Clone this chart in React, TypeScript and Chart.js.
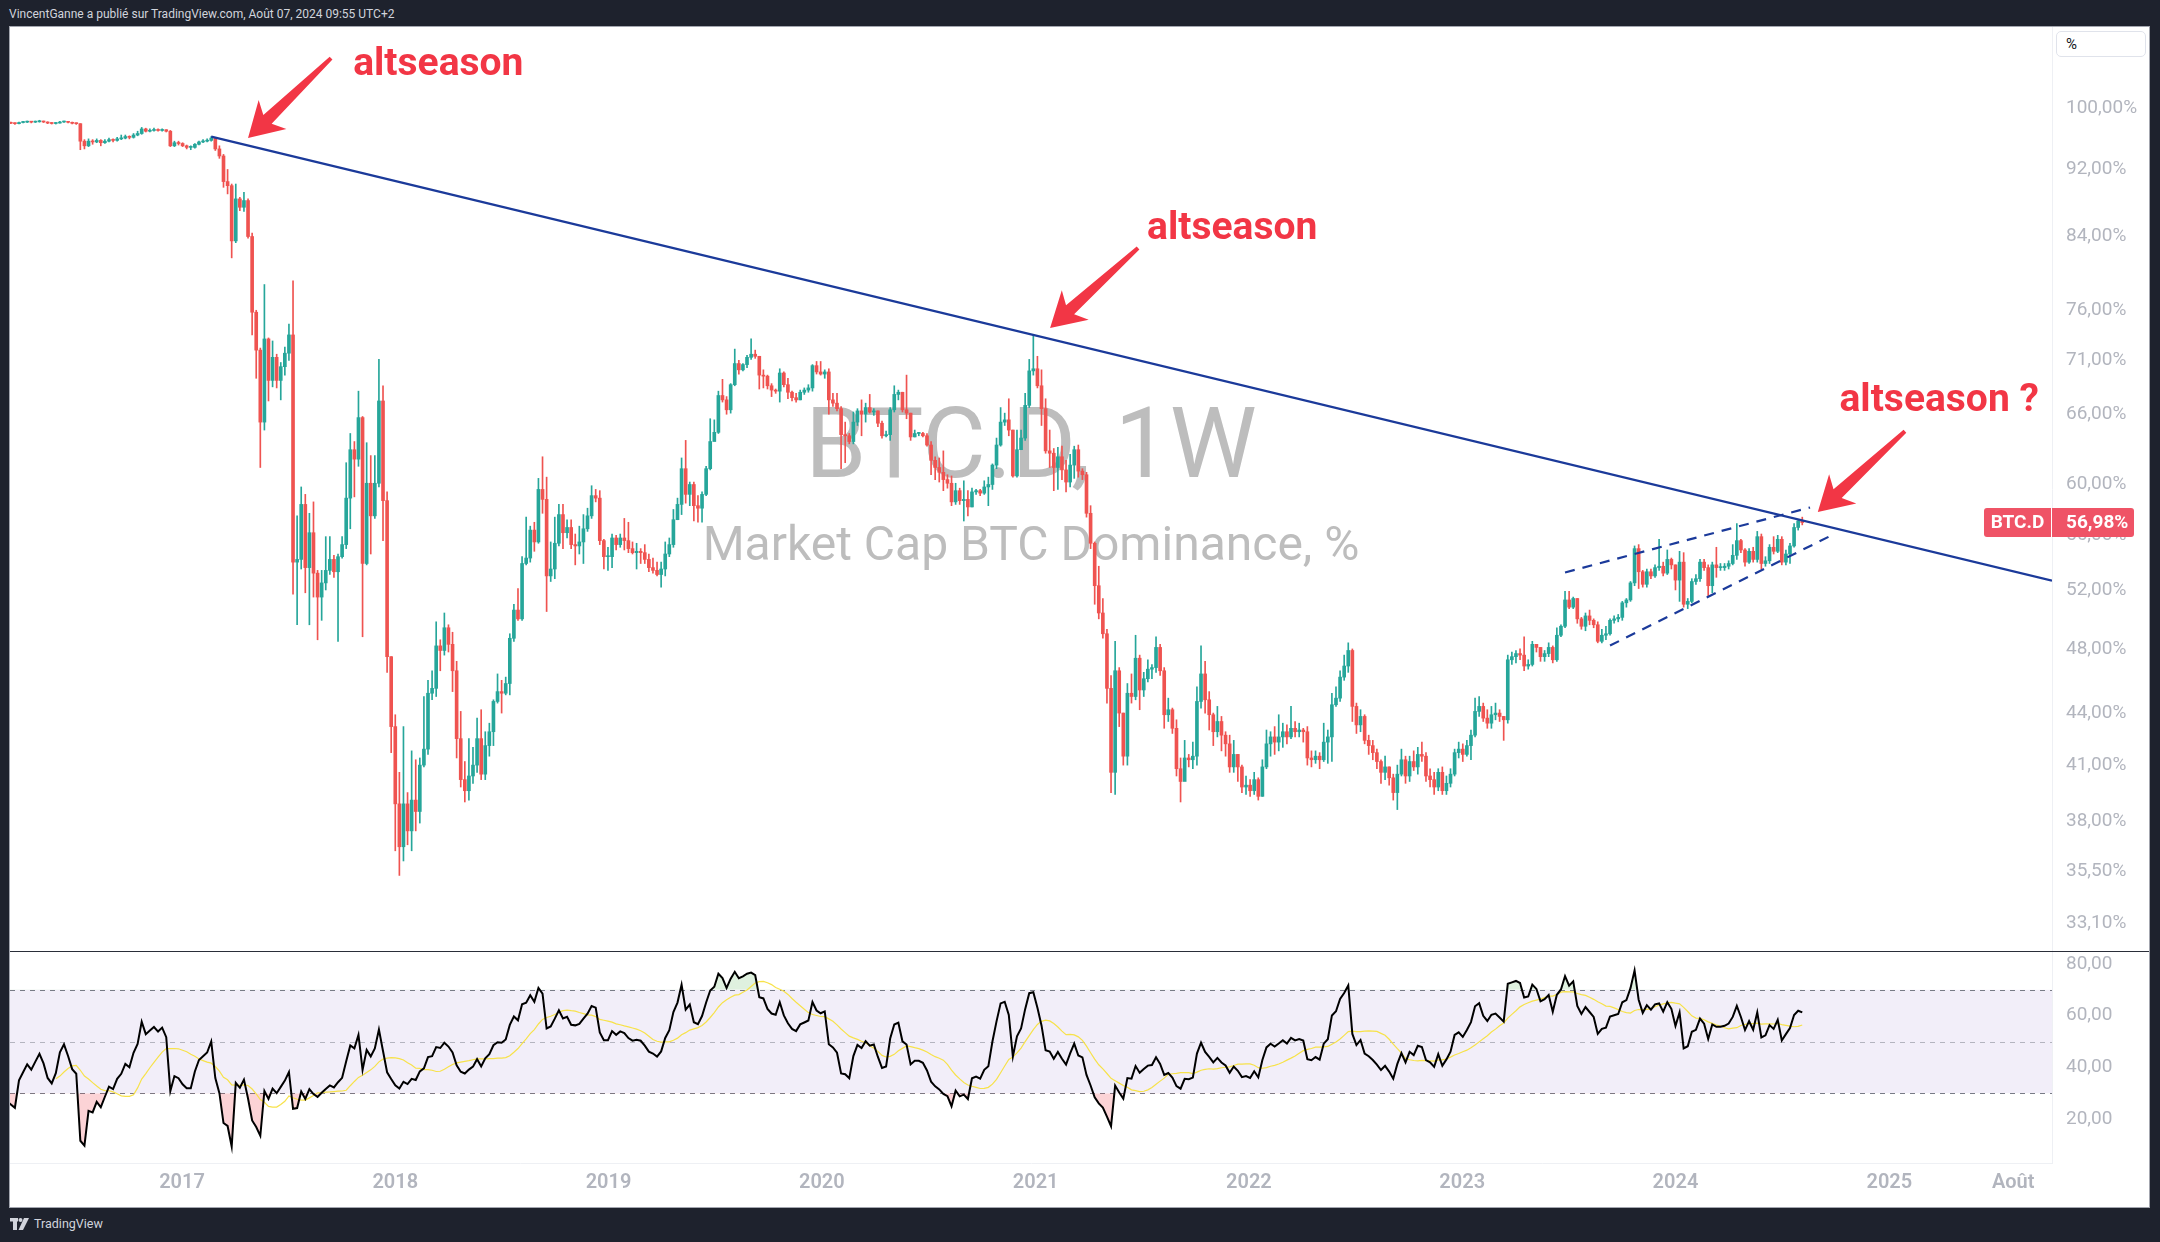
import React, { useEffect, useRef } from 'react';
import { Chart, registerables } from 'chart.js';

Chart.register(...registerables);
Chart.defaults.font.family = 'Roboto';

// ---------------- data ----------------
const SYMBOL = 'BTC.D';
const BASE_DATE = '2016-01-04'; // week index 0
const FIRST_CANDLE_DATE = '2015-11-23'; // first weekly candle (Monday)

// weekly closes (%), one per week from FIRST_CANDLE_DATE
const closes = [
  98.5, 98.6, 98.5, 98.45, 98.5, 98.4, 98.4, 98.3, 98.35, 98.25,
  98.2, 98.25, 98.15, 98.1, 98.15, 98.0, 97.95, 97.9, 98.05, 98.1,
  98.15, 98.1, 98.15, 98.2, 98.12, 97.98, 97.92, 97.98, 98.12, 98.18,
  98.08, 97.95, 97.9, 95.6, 95.0, 95.6, 95.5, 95.7, 95.4, 95.6,
  95.8, 95.7, 95.9, 96.0, 96.2, 96.1, 96.4, 96.6, 97.2, 96.9,
  97.0, 97.1, 97.0, 97.1, 96.9, 95.0, 95.4, 95.3, 95.0, 94.8,
  94.8, 95.2, 95.5, 95.6, 95.7, 96.0, 94.6, 93.7, 90.5, 90.0,
  83.5, 88.4, 87.4, 88.2, 84.0, 75.8, 72.0, 65.3, 73.1, 69.1,
  71.3, 69.1, 70.4, 71.7, 73.5, 54.0, 54.2, 58.4, 53.6, 56.2,
  53.2, 51.5, 52.5, 53.4, 54.2, 53.3, 54.4, 55.3, 58.9, 62.9,
  62.1, 65.7, 53.9, 60.1, 57.5, 60.1, 67.2, 58.7, 47.5, 43.2,
  38.9, 36.7, 38.9, 37.5, 39.1, 38.5, 41.0, 41.9, 45.2, 45.5,
  48.2, 47.9, 49.4, 48.3, 46.6, 42.5, 40.2, 39.6, 40.4, 41.0,
  42.5, 40.5, 42.1, 42.9, 44.7, 45.3, 45.2, 45.8, 48.7, 50.6,
  50.0, 53.9, 54.3, 56.4, 55.5, 59.6, 58.8, 53.0, 53.5, 55.4,
  57.6, 56.2, 56.6, 55.3, 55.2, 55.5, 56.5, 57.5, 59.1, 58.9,
  55.6, 54.4, 54.4, 55.8, 55.3, 55.8, 55.6, 55.0, 54.7, 54.8,
  54.7, 54.2, 53.6, 53.4, 53.1, 53.5, 54.6, 55.3, 57.2, 58.4,
  61.3, 59.2, 60.0, 58.3, 58.1, 59.2, 61.3, 63.6, 64.4, 67.7,
  67.3, 66.4, 68.7, 70.7, 70.1, 70.6, 71.3, 71.6, 71.4, 69.6,
  69.5, 68.6, 68.2, 68.1, 69.8, 68.7, 68.0, 67.5, 67.3, 68.0,
  68.2, 68.4, 70.5, 69.9, 69.7, 69.9, 67.3, 67.0, 66.5, 64.2,
  64.1, 63.6, 65.3, 66.3, 66.0, 66.6, 66.2, 66.3, 65.2, 64.1,
  64.2, 66.4, 67.8, 68.0, 66.4, 66.1, 64.0, 64.3, 64.3, 64.1,
  63.3, 62.0, 61.4, 61.0, 60.4, 60.1, 58.6, 59.5, 58.7, 58.8,
  58.2, 59.4, 59.5, 59.3, 59.8, 60.0, 61.6, 63.3, 65.3, 65.5,
  64.6, 60.7, 62.9, 63.9, 66.8, 70.0, 70.2, 68.6, 66.5, 62.8,
  62.6, 61.4, 62.3, 61.2, 60.2, 61.6, 62.9, 61.1, 60.8, 57.7,
  55.4, 52.3, 50.4, 49.0, 45.5, 40.6, 46.6, 44.0, 41.5, 45.2,
  45.0, 47.4, 45.4, 46.1, 46.7, 46.8, 48.1, 46.6, 43.9, 44.2,
  43.1, 40.8, 40.1, 41.4, 41.3, 41.5, 44.7, 46.4, 44.8, 43.9,
  42.9, 43.5, 42.7, 42.2, 40.9, 41.6, 40.9, 39.8, 39.9, 39.6,
  40.2, 39.3, 40.9, 42.2, 42.6, 42.3, 42.6, 42.9, 42.6, 43.1,
  42.9, 43.0, 42.9, 41.4, 41.3, 41.5, 41.3, 42.3, 42.6, 44.5,
  44.9, 46.2, 46.9, 47.9, 44.4, 43.3, 43.8, 42.4, 42.1, 41.7,
  41.2, 40.6, 40.9, 40.3, 39.5, 40.5, 41.3, 40.4, 41.2, 40.9,
  41.6, 41.5, 40.4, 40.2, 39.8, 40.6, 39.6, 40.0, 40.5, 41.7,
  41.9, 41.6, 42.1, 42.7, 44.1, 44.4, 43.7, 43.4, 43.9, 44.0,
  43.8, 43.6, 47.3, 47.5, 47.7, 47.6, 46.9, 47.0, 48.3, 48.1,
  47.5, 47.7, 48.1, 47.3, 48.9, 49.5, 51.3, 50.8, 51.4, 50.0,
  49.5, 50.2, 49.9, 49.6, 48.5, 48.9, 49.0, 49.9, 50.0, 50.1,
  51.1, 51.3, 52.5, 55.0, 53.3, 52.4, 53.3, 53.0, 53.6, 53.7,
  53.2, 54.2, 53.8, 52.7, 54.0, 51.0, 51.2, 52.6, 52.8, 54.0,
  53.6, 52.3, 53.8, 53.6, 53.6, 53.7, 53.9, 54.5, 55.6, 54.9,
  54.0, 54.8, 54.2, 55.9, 53.9, 54.1, 55.1, 54.8, 55.7, 54.0,
  54.6, 55.2, 56.6, 57.1, 56.98,
];

const highs = [
  98.7, 98.7, 98.7, 98.6, 98.6, 98.55, 98.5, 98.45, 98.45, 98.4,
  98.3, 98.35, 98.3, 98.2, 98.25, 98.2, 98.1, 98.0, 98.1, 98.2,
  98.25, 98.2, 98.25, 98.35, 98.25, 98.15, 98.05, 98.05, 98.2, 98.25,
  98.2, 98.1, 98.0, 97.9, 95.8, 95.9, 95.8, 95.9, 95.8, 95.8,
  96.0, 95.9, 96.1, 96.4, 96.4, 96.3, 96.6, 96.9, 97.4, 97.3,
  97.2, 97.3, 97.2, 97.2, 97.1, 97.0, 95.6, 95.6, 95.4, 95.1,
  95.0, 95.3, 95.6, 95.8, 95.9, 96.2, 96.1, 95.0, 93.9, 92.0,
  90.2, 90.2, 88.6, 89.2, 88.4, 84.4, 76.0, 72.2, 78.7, 73.2,
  72.9, 71.6, 70.8, 72.3, 74.6, 79.1, 57.5, 59.8, 59.2, 57.7,
  58.6, 53.4, 53.4, 55.9, 55.9, 54.5, 54.6, 55.9, 61.8, 64.3,
  63.6, 68.1, 65.8, 63.5, 62.4, 62.4, 71.1, 68.6, 59.4, 47.5,
  43.9, 40.6, 43.2, 39.5, 41.8, 41.3, 41.4, 45.0, 46.0, 46.6,
  49.8, 48.6, 50.4, 49.6, 49.1, 47.2, 44.1, 41.2, 42.5, 42.0,
  43.7, 44.2, 42.9, 43.4, 44.8, 46.4, 46.0, 46.2, 49.0, 51.0,
  52.1, 54.4, 57.4, 56.7, 57.0, 60.5, 62.3, 60.6, 55.5, 57.4,
  58.4, 58.4, 57.2, 57.2, 56.1, 56.7, 57.6, 58.1, 59.9, 59.6,
  59.5, 55.7, 55.1, 56.1, 56.0, 56.1, 57.3, 57.0, 55.5, 55.4,
  55.0, 55.3, 54.6, 54.3, 54.0, 54.0, 55.5, 55.8, 58.0, 58.9,
  62.2, 63.7, 60.2, 60.2, 59.1, 59.4, 61.5, 65.6, 65.5, 68.1,
  69.2, 67.6, 68.8, 72.1, 71.0, 70.7, 71.5, 73.1, 72.0, 71.4,
  70.1, 69.6, 68.8, 68.3, 70.2, 69.9, 69.3, 68.1, 67.9, 68.2,
  68.4, 68.7, 70.6, 70.9, 70.9, 70.1, 70.2, 67.9, 67.9, 66.7,
  65.3, 64.3, 66.2, 66.5, 67.3, 67.0, 67.8, 66.5, 66.3, 65.4,
  64.5, 66.6, 68.6, 68.2, 68.0, 69.6, 66.1, 64.6, 64.4, 64.4,
  64.3, 63.6, 62.3, 62.2, 62.8, 60.8, 60.7, 60.1, 59.7, 60.3,
  59.5, 59.7, 59.6, 59.6, 60.3, 60.6, 61.7, 63.9, 66.6, 66.1,
  67.4, 64.6, 64.6, 64.6, 67.9, 71.1, 73.5, 71.4, 70.1, 67.4,
  64.6, 63.0, 63.1, 63.2, 62.0, 62.5, 63.2, 63.3, 61.3, 61.0,
  58.3, 55.5, 53.7, 51.4, 49.3, 46.3, 48.5, 46.8, 44.0, 45.8,
  46.4, 48.9, 47.6, 46.5, 47.3, 47.0, 48.8, 48.3, 46.8, 44.9,
  44.3, 43.6, 41.4, 42.4, 41.6, 42.3, 45.6, 48.2, 47.2, 45.3,
  44.0, 44.4, 43.8, 42.9, 42.7, 42.4, 41.6, 41.0, 40.4, 40.2,
  40.6, 40.3, 41.3, 43.0, 42.9, 43.2, 43.9, 43.4, 43.3, 44.4,
  43.5, 43.4, 43.1, 43.2, 41.8, 41.8, 41.7, 43.4, 43.0, 45.2,
  45.6, 46.6, 47.6, 48.4, 48.0, 44.6, 44.2, 43.9, 42.7, 42.4,
  41.9, 41.3, 41.5, 40.9, 40.5, 41.0, 41.9, 41.5, 41.5, 41.8,
  42.0, 42.3, 41.7, 40.8, 40.6, 40.8, 40.9, 40.4, 40.8, 41.9,
  42.3, 42.2, 42.4, 43.0, 44.9, 45.0, 44.6, 44.2, 44.4, 44.6,
  44.2, 43.8, 47.6, 47.8, 47.9, 48.0, 48.8, 47.3, 48.5, 48.3,
  48.1, 47.9, 48.4, 48.2, 49.4, 49.6, 51.9, 51.9, 51.5, 51.4,
  50.1, 50.4, 50.6, 50.0, 49.8, 49.3, 49.5, 50.0, 50.2, 50.3,
  51.2, 51.4, 52.6, 55.2, 55.3, 53.4, 53.5, 53.5, 53.8, 55.7,
  54.0, 54.9, 54.3, 53.8, 54.8, 54.7, 51.4, 52.8, 53.1, 54.2,
  54.2, 53.8, 54.0, 55.1, 53.9, 53.9, 54.1, 55.3, 56.9, 55.7,
  55.0, 55.0, 55.1, 56.3, 56.1, 54.4, 55.3, 55.9, 56.0, 55.9,
  54.9, 55.4, 56.9, 57.2, 57.4,
];

const lows = [
  98.4, 98.4, 98.4, 98.3, 98.4, 98.3, 98.3, 98.2, 98.2, 98.2,
  98.1, 98.1, 98.1, 98.0, 98.0, 97.95, 97.9, 97.8, 97.85, 98.0,
  98.05, 98.0, 98.05, 98.1, 98.05, 97.9, 97.85, 97.85, 97.95, 98.05,
  98.0, 97.85, 97.8, 94.5, 94.6, 94.9, 95.2, 95.4, 95.0, 95.3,
  95.5, 95.5, 95.6, 95.8, 95.9, 95.9, 96.0, 96.3, 96.5, 96.8,
  96.8, 96.9, 96.9, 96.9, 96.8, 94.9, 94.9, 95.1, 94.9, 94.6,
  94.5, 94.7, 95.1, 95.4, 95.5, 95.6, 94.4, 93.4, 89.8, 89.0,
  81.6, 83.3, 87.0, 86.9, 83.8, 73.5, 69.3, 61.4, 64.6, 67.2,
  68.5, 68.4, 67.3, 69.6, 71.0, 51.7, 49.6, 53.5, 51.8, 49.6,
  51.5, 48.6, 49.9, 52.0, 53.1, 52.9, 48.5, 54.3, 55.0, 56.5,
  59.0, 61.5, 48.8, 53.8, 54.6, 57.3, 59.8, 55.6, 46.5, 41.7,
  36.5, 35.3, 36.0, 36.8, 36.5, 37.5, 37.9, 40.9, 41.6, 44.8,
  45.0, 46.6, 47.6, 47.8, 45.3, 41.4, 39.8, 39.0, 39.1, 40.0,
  40.6, 40.2, 40.2, 41.5, 42.1, 44.6, 44.0, 45.1, 45.1, 48.5,
  49.9, 49.9, 53.8, 54.0, 54.8, 55.4, 57.7, 50.5, 52.6, 52.8,
  55.2, 55.0, 55.8, 55.0, 53.8, 54.6, 53.9, 56.3, 57.3, 58.6,
  55.3, 53.5, 53.4, 53.6, 54.9, 55.1, 54.9, 54.7, 54.6, 53.5,
  53.9, 53.9, 53.3, 53.2, 53.0, 52.2, 53.0, 54.4, 55.1, 57.2,
  57.6, 58.5, 58.3, 57.1, 57.0, 57.0, 59.1, 61.2, 63.7, 64.3,
  67.1, 66.0, 66.1, 68.6, 69.7, 70.0, 70.3, 71.1, 71.2, 68.3,
  68.4, 68.3, 67.6, 67.9, 67.1, 68.5, 67.4, 67.2, 67.1, 67.3,
  67.8, 68.0, 68.1, 69.7, 69.6, 69.3, 66.0, 66.7, 66.3, 61.3,
  61.8, 63.4, 63.4, 65.0, 64.1, 65.3, 66.1, 65.9, 64.9, 63.9,
  64.0, 63.7, 66.2, 67.3, 66.2, 65.6, 63.7, 64.0, 64.1, 64.0,
  63.2, 60.8, 60.4, 60.2, 59.5, 59.7, 58.3, 58.4, 58.4, 57.1,
  57.5, 58.2, 59.2, 59.1, 59.2, 58.3, 59.6, 61.3, 63.2, 65.0,
  64.1, 60.6, 60.6, 63.3, 63.7, 66.6, 69.6, 68.4, 65.0, 62.6,
  61.4, 59.5, 59.6, 60.4, 59.4, 59.8, 60.5, 60.6, 60.4, 57.4,
  55.0, 51.0, 50.0, 48.7, 44.6, 39.5, 39.4, 43.2, 41.0, 41.0,
  44.6, 44.8, 44.2, 45.0, 45.9, 46.1, 46.5, 46.3, 43.1, 43.5,
  42.8, 40.4, 39.0, 40.3, 40.9, 40.8, 41.0, 44.3, 44.0, 43.0,
  42.1, 42.6, 41.8, 41.5, 40.6, 40.6, 40.1, 39.5, 39.4, 39.3,
  39.4, 39.1, 39.3, 40.8, 41.5, 41.6, 41.8, 42.0, 42.2, 42.5,
  42.6, 42.6, 42.3, 41.0, 40.9, 41.1, 40.8, 41.2, 41.1, 41.2,
  44.4, 44.7, 46.0, 46.5, 43.5, 42.8, 42.9, 42.2, 41.6, 41.3,
  40.8, 40.0, 40.2, 39.9, 39.1, 38.6, 40.4, 40.0, 40.1, 40.7,
  40.5, 41.2, 40.1, 39.8, 39.4, 39.6, 39.4, 39.4, 39.8, 40.4,
  41.4, 41.2, 41.5, 41.3, 42.6, 43.8, 43.5, 43.1, 43.1, 43.6,
  43.5, 42.4, 43.4, 47.0, 47.1, 47.3, 46.6, 46.7, 46.9, 47.8,
  47.2, 47.2, 47.5, 47.1, 47.2, 48.8, 49.4, 50.7, 50.7, 49.7,
  49.3, 49.2, 49.6, 49.4, 48.4, 48.4, 48.6, 48.9, 49.7, 49.8,
  49.9, 50.8, 51.2, 52.3, 52.1, 52.2, 52.2, 52.8, 52.9, 53.4,
  53.0, 53.1, 53.5, 52.0, 51.2, 50.8, 50.7, 51.1, 52.4, 52.6,
  53.4, 51.6, 51.8, 52.9, 53.4, 53.4, 53.5, 53.8, 54.2, 54.7,
  53.7, 53.9, 54.0, 54.0, 53.5, 53.7, 53.9, 54.6, 54.7, 53.8,
  53.8, 53.9, 55.1, 56.4, 56.8,
];

const priceTicks = [33.1, 35.5, 38, 41, 44, 48, 52, 56, 60, 66, 71, 76, 84, 92, 100];
const rsiTicks = [20, 40, 60, 80];
const timeLabels = ['2017', '2018', '2019', '2020', '2021', '2022', '2023', '2024', '2025', 'Août'];
const timeLabelDates = ['2017-01-01', '2018-01-01', '2019-01-01', '2020-01-01', '2021-01-01', '2022-01-01', '2023-01-01', '2024-01-01', '2025-01-01', '2025-08-01'];

// drawings (x = week index from BASE_DATE, y = %)
const trendLine = [{ x: 59, y: 96.2 }, { x: 509.06, y: 52.66 }];
const wedgeUpper = [{ x: 390.0, y: 53.25 }, { x: 449.9, y: 58.16 }];
const wedgeLower = [{ x: 401.0, y: 48.22 }, { x: 455.3, y: 56.02 }];
const arrows = [
  { from: { x: 88.3, y: 107.0 }, to: { x: 68.0, y: 96.0 } },
  { from: { x: 285.6, y: 82.7 }, to: { x: 264.1, y: 74.2 } },
  { from: { x: 473.1, y: 64.5 }, to: { x: 451.8, y: 57.8 } },
];
const notes = [
  { text: 'altseason', x: 93.7, y: 104.6 },
  { text: 'altseason', x: 287.8, y: 83.7 },
  { text: 'altseason ?', x: 457.1, y: 66.3 },
];

// view
const X_MIN = 9.8;
const X_MAX = 509.06;
const PRICE_MIN = 31.86;
const PRICE_MAX = 111.62;
const RSI_MIN = 2.97;
const RSI_MAX = 84.65;

// ---------------- helpers ----------------
const DAY = 86400000;
const weeksFrom = (d: string) =>
  (Date.parse(d + 'T00:00:00Z') - Date.parse(BASE_DATE + 'T00:00:00Z')) / (7 * DAY);
const fmt2 = (v: number) => v.toFixed(2).replace('.', ',');

function rsiOf(values: number[], len: number) {
  const out: (number | null)[] = values.map(() => null);
  let g = 0;
  let l = 0;
  for (let i = 1; i < values.length; i++) {
    const d = values[i] - values[i - 1];
    const up = d > 0 ? d : 0;
    const dn = d < 0 ? -d : 0;
    if (i <= len) {
      g += up;
      l += dn;
      if (i === len) {
        g /= len;
        l /= len;
        out[i] = l === 0 ? 100 : 100 - 100 / (1 + g / l);
      }
    } else {
      g = (g * (len - 1) + up) / len;
      l = (l * (len - 1) + dn) / len;
      out[i] = l === 0 ? 100 : 100 - 100 / (1 + g / l);
    }
  }
  return out;
}

function smaOf(values: (number | null)[], len: number) {
  return values.map((_, i) => {
    if (i < len - 1) return null;
    let s = 0;
    for (let j = i - len + 1; j <= i; j++) {
      const v = values[j];
      if (v === null) return null;
      s += v;
    }
    return s / len;
  });
}

const UP = '#26a69a';
const DOWN = '#ef5350';
const NAVY = '#1b3a9a';
const AXIS_TEXT = '#b2b5be';
const TAG_RED = '#ef5366';
const NOTE_RED = '#f23645';

export default function App() {
  const mainRef = useRef<HTMLCanvasElement>(null);
  const rsiRef = useRef<HTMLCanvasElement>(null);

  useEffect(() => {
    document.body.style.margin = '0';
    const firstX = weeksFrom(FIRST_CANDLE_DATE);
    const xs = closes.map((_, i) => firstX + i);
    const opens = closes.map((c, i) => (i === 0 ? c : closes[i - 1]));
    const colors = closes.map((c, i) => (c >= opens[i] ? UP : DOWN));
    const bodies = xs.map((x, i) => ({ x, y: [opens[i], closes[i]] }));
    const wicks = xs.map((x, i) => ({ x, y: [lows[i], highs[i]] }));
    const lastClose = closes[closes.length - 1];

    const watermark = {
      id: 'watermark',
      beforeDatasetsDraw(chart: any) {
        const { ctx, chartArea } = chart;
        const cx = (chartArea.left + chartArea.right) / 2;
        ctx.save();
        ctx.fillStyle = '#bdbdbd';
        ctx.textAlign = 'center';
        ctx.textBaseline = 'alphabetic';
        ctx.font = '98px Roboto';
        ctx.fillText(`${SYMBOL}, 1W`, cx, 450);
        ctx.font = '48px Roboto';
        ctx.fillText('Market Cap BTC Dominance, %', cx, 533);
        ctx.restore();
      },
    };

    const annotations = {
      id: 'annotations',
      afterDatasetsDraw(chart: any) {
        const { ctx } = chart;
        const xs_ = chart.scales.x;
        const ys_ = chart.scales.y;
        ctx.save();
        ctx.fillStyle = NOTE_RED;
        arrows.forEach((a) => {
          const tx = xs_.getPixelForValue(a.from.x);
          const ty = ys_.getPixelForValue(a.from.y);
          const px = xs_.getPixelForValue(a.to.x);
          const py = ys_.getPixelForValue(a.to.y);
          const len = Math.hypot(px - tx, py - ty);
          const ux = (px - tx) / len;
          const uy = (py - ty) / len;
          const nx = -uy;
          const ny = ux;
          const pt = (back: number, side: number) => [px - ux * back + nx * side, py - uy * back + ny * side];
          const pts = [
            [px, py],
            pt(34, 20),
            pt(27, 6),
            [tx + nx * 2, ty + ny * 2],
            [tx - nx * 2, ty - ny * 2],
            pt(27, -6),
            pt(34, -20),
          ];
          ctx.beginPath();
          ctx.moveTo(pts[0][0], pts[0][1]);
          for (let i = 1; i < pts.length; i++) ctx.lineTo(pts[i][0], pts[i][1]);
          ctx.closePath();
          ctx.fill();
        });
        ctx.font = 'bold 39px Roboto';
        ctx.textAlign = 'left';
        ctx.textBaseline = 'alphabetic';
        notes.forEach((n) => {
          ctx.fillText(n.text, xs_.getPixelForValue(n.x), ys_.getPixelForValue(n.y));
        });
        ctx.restore();
      },
    };

    const priceTag = {
      id: 'priceTag',
      afterDraw(chart: any) {
        const { ctx, chartArea } = chart;
        const y = chart.scales.y.getPixelForValue(lastClose);
        const h = 29;
        const r = chartArea.right;
        ctx.save();
        ctx.fillStyle = TAG_RED;
        ctx.beginPath();
        ctx.roundRect(r - 68, y - h / 2, 67, h, [3, 0, 0, 3]);
        ctx.fill();
        ctx.beginPath();
        ctx.roundRect(r, y - h / 2, 82, h, [0, 3, 3, 0]);
        ctx.fill();
        ctx.fillStyle = '#ffffff';
        ctx.font = 'bold 19px Roboto';
        ctx.textBaseline = 'middle';
        ctx.textAlign = 'center';
        ctx.fillText(SYMBOL, r - 34.5, y + 1);
        ctx.textAlign = 'left';
        ctx.fillText(fmt2(lastClose) + '%', r + 14, y + 1);
        ctx.restore();
      },
    };

    const main = new Chart(mainRef.current as HTMLCanvasElement, {
      type: 'bar',
      data: {
        datasets: [
          { type: 'line', data: trendLine, borderColor: NAVY, borderWidth: 2.2, pointRadius: 0, order: 0 } as any,
          { type: 'line', data: wedgeUpper, borderColor: NAVY, borderWidth: 2.2, borderDash: [10, 8], pointRadius: 0, order: 0 } as any,
          { type: 'line', data: wedgeLower, borderColor: NAVY, borderWidth: 2.2, borderDash: [10, 8], pointRadius: 0, order: 0 } as any,
          { type: 'bar', data: bodies, backgroundColor: colors, barThickness: 3, grouped: false, minBarLength: 1, order: 1 } as any,
          { type: 'bar', data: wicks, backgroundColor: colors, barThickness: 1, grouped: false, order: 2 } as any,
        ],
      },
      options: {
        responsive: false,
        animation: false,
        events: [],
        layout: { padding: 0, autoPadding: false },
        plugins: { legend: { display: false }, tooltip: { enabled: false } },
        scales: {
          x: { type: 'linear', min: X_MIN, max: X_MAX, display: false, offset: false },
          y: {
            type: 'logarithmic',
            position: 'right',
            min: PRICE_MIN,
            max: PRICE_MAX,
            grid: { display: false, drawTicks: false },
            border: { color: '#eef0f4' },
            ticks: {
              padding: 14,
              autoSkip: false,
              color: AXIS_TEXT,
              font: { size: 19 },
              callback: (v: any) => fmt2(Number(v)) + '%',
            },
            afterBuildTicks: (s: any) => {
              s.ticks = priceTicks.map((v) => ({ value: v }));
            },
            afterFit: (s: any) => {
              s.width = 97;
              s.paddingTop = 0;
              s.paddingBottom = 0;
            },
          },
        },
      } as any,
      plugins: [watermark, annotations, priceTag],
    });

    const rsi = rsiOf(closes, 14);
    const ma = smaOf(rsi, 14);
    const rsiPts = xs.map((x, i) => ({ x, y: rsi[i] }));
    const maPts = xs.map((x, i) => ({ x, y: ma[i] }));
    const timeTicks = timeLabelDates.map(weeksFrom);

    const band = {
      id: 'band',
      beforeDatasetsDraw(chart: any) {
        const { ctx, chartArea } = chart;
        const y = chart.scales.y;
        const y70 = y.getPixelForValue(70);
        const y50 = y.getPixelForValue(50);
        const y30 = y.getPixelForValue(30);
        ctx.save();
        ctx.fillStyle = 'rgba(126,87,194,0.1)';
        ctx.fillRect(chartArea.left, y70, chartArea.right - chartArea.left, y30 - y70);
        ctx.setLineDash([5, 5]);
        ctx.lineWidth = 1;
        ctx.strokeStyle = '#787b86';
        [y70, y30].forEach((yy) => {
          ctx.beginPath();
          ctx.moveTo(chartArea.left, Math.round(yy) + 0.5);
          ctx.lineTo(chartArea.right, Math.round(yy) + 0.5);
          ctx.stroke();
        });
        ctx.strokeStyle = 'rgba(120,123,134,0.5)';
        ctx.beginPath();
        ctx.moveTo(chartArea.left, Math.round(y50) + 0.5);
        ctx.lineTo(chartArea.right, Math.round(y50) + 0.5);
        ctx.stroke();
        ctx.restore();
      },
    };

    const rsiChart = new Chart(rsiRef.current as HTMLCanvasElement, {
      type: 'line',
      data: {
        datasets: [
          { data: rsiPts, borderColor: '#000000', borderWidth: 2, pointRadius: 0, order: 0 },
          { data: maPts, borderColor: '#f7e24a', borderWidth: 1.2, pointRadius: 0, order: 1 },
          {
            data: rsiPts, borderColor: 'transparent', borderWidth: 0, pointRadius: 0, order: 2,
            fill: { target: { value: 70 }, above: 'rgba(76,175,80,0.18)', below: 'transparent' },
          },
          {
            data: rsiPts, borderColor: 'transparent', borderWidth: 0, pointRadius: 0, order: 3,
            fill: { target: { value: 30 }, above: 'transparent', below: 'rgba(242,54,69,0.22)' },
          },
        ] as any,
      },
      options: {
        responsive: false,
        animation: false,
        events: [],
        layout: { padding: 0, autoPadding: false },
        plugins: { legend: { display: false }, tooltip: { enabled: false } },
        scales: {
          x: {
            type: 'linear',
            min: X_MIN,
            max: X_MAX,
            position: 'bottom',
            grid: { display: false, drawTicks: false },
            border: { color: '#eef0f4' },
            ticks: {
              padding: 8,
              autoSkip: false,
              maxRotation: 0,
              color: AXIS_TEXT,
              font: { size: 20, weight: '600' },
              callback: (_v: any, i: number) => timeLabels[i],
            },
            afterBuildTicks: (s: any) => {
              s.ticks = timeTicks.map((v) => ({ value: v }));
            },
            afterFit: (s: any) => {
              s.height = 44;
              s.paddingLeft = 0;
              s.paddingRight = 0;
            },
          },
          y: {
            type: 'linear',
            position: 'right',
            min: RSI_MIN,
            max: RSI_MAX,
            grid: { display: false, drawTicks: false },
            border: { color: '#eef0f4' },
            ticks: {
              padding: 14,
              autoSkip: false,
              color: AXIS_TEXT,
              font: { size: 19 },
              callback: (v: any) => fmt2(Number(v)),
            },
            afterBuildTicks: (s: any) => {
              s.ticks = rsiTicks.map((v) => ({ value: v }));
            },
            afterFit: (s: any) => {
              s.width = 97;
              s.paddingTop = 0;
              s.paddingBottom = 0;
            },
          },
        },
      } as any,
      plugins: [band],
    });

    return () => {
      main.destroy();
      rsiChart.destroy();
    };
  }, []);

  return (
    <div style={{ position: 'relative', width: 2160, height: 1242, background: '#1e222d', overflow: 'hidden', fontFamily: 'Roboto' }}>
      <div style={{ position: 'absolute', left: 9, top: 7, fontSize: 12, lineHeight: '14px', color: '#d1d4dc', whiteSpace: 'nowrap' }}>
        VincentGanne a publié sur TradingView.com, Août 07, 2024 09:55 UTC+2
      </div>
      <div style={{ position: 'absolute', left: 9, top: 26, width: 2141, height: 1182, background: '#ffffff', boxSizing: 'border-box', border: '1px solid #a3a6af' }} />
      <canvas ref={mainRef} width={2139} height={924} style={{ position: 'absolute', left: 10, top: 27, width: 2139, height: 924 }} />
      <div style={{ position: 'absolute', left: 10, top: 951, width: 2139, height: 1, background: '#2a2e39' }} />
      <canvas ref={rsiRef} width={2139} height={255} style={{ position: 'absolute', left: 10, top: 952, width: 2139, height: 255 }} />
      <div style={{ position: 'absolute', left: 2056, top: 31, width: 90, height: 26, boxSizing: 'border-box', border: '1px solid #e0e3eb', borderRadius: 5, background: '#fff', fontSize: 15, lineHeight: '24px', paddingLeft: 9, color: '#131722' }}>
        %
      </div>
      <div style={{ position: 'absolute', left: 10, top: 1216, height: 16, display: 'flex', alignItems: 'center', gap: 4 }}>
        <svg width="20" height="12" viewBox="0 0 20 12">
          <rect x="0" y="0" width="8" height="3.5" fill="#d1d4dc" />
          <rect x="3" y="0" width="4" height="12" fill="#d1d4dc" />
          <circle cx="10.5" cy="2" r="2" fill="#d1d4dc" />
          <polygon points="14,0 19,0 13,12 8.5,12" fill="#d1d4dc" />
        </svg>
        <span style={{ fontSize: 12.5, color: '#d1d4dc', lineHeight: '16px' }}>TradingView</span>
      </div>
    </div>
  );
}
